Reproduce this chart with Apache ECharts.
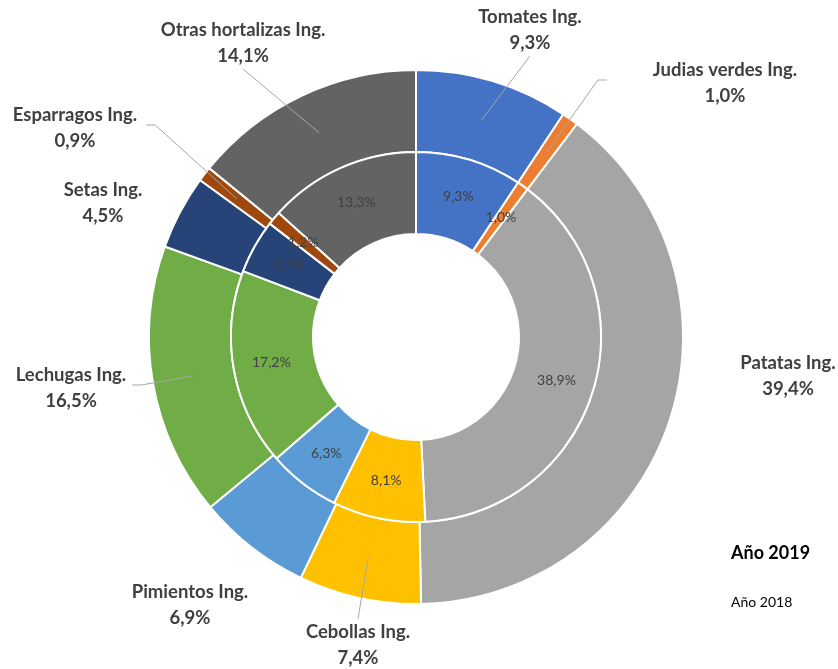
<!DOCTYPE html>
<html><head><meta charset="utf-8">
<script src="https://cdn.jsdelivr.net/npm/echarts@6/dist/echarts.min.js"></script>
<style>html,body{margin:0;padding:0;background:#fff}#c{width:838px;height:669px}</style>
</head><body><div id="c"></div>
<script>
const categories = ['Tomates Ing.', 'Judias verdes Ing.', 'Patatas Ing.', 'Cebollas Ing.', 'Pimientos Ing.', 'Lechugas Ing.', 'Setas Ing.', 'Esparragos Ing.', 'Otras hortalizas Ing.'];
const values2019 = [9.3, 1.0, 39.4, 7.4, 6.9, 16.5, 4.5, 0.9, 14.1];
const values2018 = [9.3, 1.0, 38.9, 8.1, 6.3, 17.2, 4.7, 1.2, 13.3];
const seriesNames = ['Año 2019', 'Año 2018'];

const colors = ['#4472C4', '#ED7D31', '#A5A5A5', '#FFC000', '#5B9BD5', '#70AD47', '#264478', '#9E480E', '#636363'];
// centre of each outer label block (layout config)
const labelCenters = [[530, 30], [725, 83], [788, 376], [358, 645], [190, 605], [71, 388], [103, 203], [75, 128], [243, 43]];
const showLine = [true, true, false, true, false, true, false, true, true];
const lineGap = [0, 46, 0, 0, 0, 6, 0, 9, 0];
const FONT = 'Lato, "Open Sans", sans-serif';
const fmt = v => v.toFixed(1).replace('.', ',') + '%';

const chart = echarts.init(document.getElementById('c'), null, {renderer: 'canvas'});

function outerLayout(p) {
  const i = p.dataIndex;
  const cx = labelCenters[i][0], cy = labelCenters[i][1];
  const lr = p.labelRect || p.rect;
  const w = lr.width, h = lr.height;
  const out = {x: cx, y: cy, align: 'center', verticalAlign: 'middle'};
  const pts = p.labelLinePoints;
  if (showLine[i] && pts && pts.length >= 2) {
    const dx = pts[1][0] - pts[0][0], dy = pts[1][1] - pts[0][1];
    const len = Math.hypot(dx, dy) || 1;
    const inner = [pts[0][0] - dx / len * 41, pts[0][1] - dy / len * 41];
    const vx = cx - inner[0], vy = cy - inner[1];
    let end, mid;
    if (Math.abs(vy) > Math.abs(vx)) {
      const ey = vy < 0 ? cy + h / 2 : cy - h / 2;
      end = [cx, ey]; mid = [cx, ey];
    } else {
      const g = lineGap[i];
      const ex = vx < 0 ? cx + w / 2 + g : cx - w / 2 - g;
      end = [ex, cy - 3]; mid = [vx < 0 ? ex + 9 : ex - 9, cy - 3];
    }
    out.labelLinePoints = [inner, mid, end];
  }
  return out;
}

const ring2019 = {center: [416, 337], radius: [185, 267]};
const ring2018 = {center: [416, 337], radius: [103, 185]};

chart.setOption({
  animation: false,
  backgroundColor: '#fff',
  graphic: [
    {type: 'text', left: 731, top: 544, style: {text: seriesNames[0], font: 'bold 18px ' + FONT, fill: '#000'}},
    {type: 'text', left: 731, top: 595, style: {text: seriesNames[1], font: '14px ' + FONT, fill: '#000'}}
  ],
  series: [
    {
      name: seriesNames[0], type: 'pie', center: ring2019.center, radius: ring2019.radius,
      startAngle: 90, clockwise: true, silent: true, z: 2,
      itemStyle: {borderColor: '#fff', borderWidth: 2},
      label: {show: false}, labelLine: {show: false},
      data: categories.map((n, i) => ({name: n, value: values2019[i], itemStyle: {color: colors[i]}}))
    },
    {
      name: seriesNames[1], type: 'pie', center: ring2018.center, radius: ring2018.radius,
      startAngle: 90, clockwise: true, avoidLabelOverlap: false, silent: true, z: 2,
      itemStyle: {borderColor: '#fff', borderWidth: 2},
      label: {show: true, position: 'inside', formatter: p => fmt(p.value),
        fontFamily: FONT, fontSize: 14, color: '#404040'},
      labelLine: {show: false},
      data: categories.map((n, i) => ({name: n, value: values2018[i], itemStyle: {color: colors[i]}}))
    },
    {
      // label layer for the 2019 ring (same data, transparent sectors, drawn on top)
      name: seriesNames[0] + ' etiquetas', type: 'pie', center: ring2019.center, radius: ring2019.radius,
      startAngle: 90, clockwise: true, avoidLabelOverlap: false, silent: true, z: 10,
      itemStyle: {color: 'rgba(0,0,0,0)', borderWidth: 0},
      label: {show: true, position: 'outside', formatter: p => p.name + '\n' + fmt(p.value),
        fontFamily: FONT, fontWeight: 'bold', fontSize: 18.5, lineHeight: 26, color: '#404040', align: 'center'},
      labelLine: {show: true, length: 10, length2: 0, lineStyle: {color: '#A6A6A6', width: 1}},
      labelLayout: outerLayout,
      data: categories.map((n, i) => ({name: n, value: values2019[i], labelLine: {show: showLine[i]}}))
    }
  ]
});
</script>
</body></html>
